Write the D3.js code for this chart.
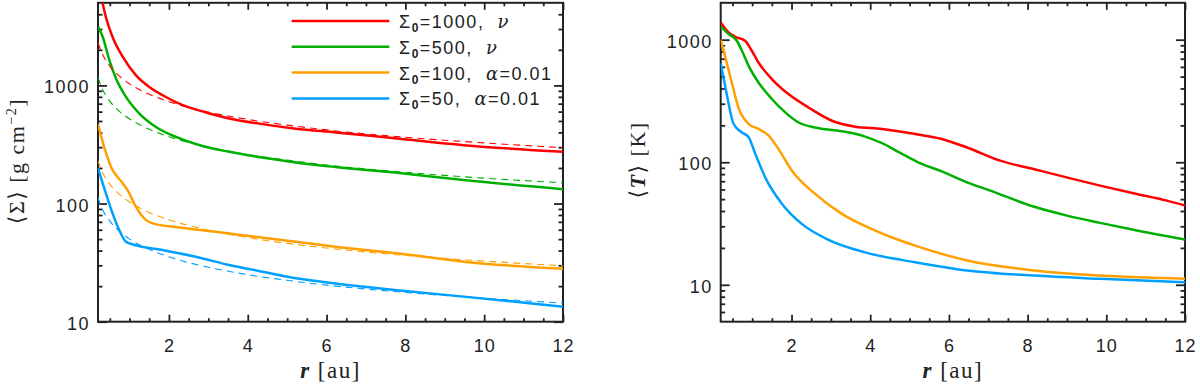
<!DOCTYPE html>
<html>
  <head>
    <meta charset="utf-8" />
    <title>Surface density and temperature profiles</title>
    <script src="https://d3js.org/d3.v7.min.js"></script>
    <style>
      body { margin: 0; background: #fff; }
      svg text { font-family: "Liberation Sans", Arial, sans-serif; fill: #222; white-space: pre; }
      .serif { font-family: "Liberation Serif", "DejaVu Serif", serif; }
      .greek { font-family: "DejaVu Serif", serif; }
    </style>
  </head>
  <body>
    <div id="chart"></div>
    <script>
      // ---- data (r in au) ----
      // left panel: azimuthally averaged surface density <Sigma> [g cm^-2]
      var rSig1000 = [0.2, 0.3, 0.4, 0.57, 0.83, 1.16, 1.5, 1.84, 2.35, 2.94, 3.53, 4.37, 5.22, 6.23, 7.79, 9.48, 12];
      var sig1000 = [7200, 5240, 3790, 2570, 1740, 1220, 970, 825, 680, 590, 525, 470, 430, 400, 355, 312, 274];

      var rSig500 = [0.2, 0.32, 0.49, 0.66, 0.91, 1.25, 1.67, 2.18, 2.85, 3.53, 4.37, 5.22, 6.23, 7.79, 9.48, 12];
      var sig500 = [3150, 2570, 1630, 1140, 800, 578, 445, 366, 307, 274, 245, 223, 204, 182, 158, 132];

      var rSig100 = [0.2, 0.38, 0.57, 0.7, 0.83, 0.95, 1.16, 1.42, 1.59, 2.26, 3.19, 4.2, 5.22, 6.23, 7.79, 9.48, 12];
      var sig100 = [470, 283, 192, 167, 148, 130, 94, 72.4, 67.9, 62.8, 57.6, 52.3, 47.5, 43, 37.9, 32.2, 28];

      var rSig50 = [0.2, 0.4, 0.57, 0.74, 0.91, 1.08, 1.84, 2.68, 3.53, 4.37, 5.22, 6.23, 7.79, 9.48, 12];
      var sig50 = [200, 122, 82.5, 59.6, 47.5, 45.1, 40.4, 35.4, 30.2, 26.5, 23.3, 21.1, 18.5, 16.3, 13.4];

      // dashed reference profiles
      var rFit = [0.2, 0.3, 0.5, 0.75, 1, 1.5, 2, 3, 4, 5, 6, 8, 10, 12];
      var fit1000 = [2300, 1880, 1457, 1190, 1030, 841, 728, 595, 515, 461, 420, 364, 326, 297];
      var fit500 = [1163, 949, 735, 600, 520, 425, 368, 300, 260, 233, 212, 184, 164, 150];
      var fit100 = [230, 188, 146, 119, 103, 84, 73, 59.5, 51.5, 46, 42, 36.4, 32.6, 29.7];
      var fit50 = [112, 91, 71, 58, 50, 41, 35.4, 28.9, 25, 22.4, 20.4, 17.7, 15.8, 14.4];

      // right panel: <T> [K]
      var rT1000 = [0.2, 0.4, 0.57, 0.82, 0.99, 1.16, 1.5, 1.92, 2.43, 3.03, 3.62, 4.3, 5.14, 5.82, 6.46, 7.3, 8.15, 8.99, 9.84, 10.69, 11.54, 12];
      var T1000 = [1380, 1145, 1056, 980, 812, 652, 477, 360, 280, 218, 195, 187, 170, 155, 132, 103, 88, 75.3, 64.5, 55.8, 48.6, 44.3];

      var rT500 = [0.2, 0.4, 0.61, 0.74, 0.91, 1.16, 1.5, 1.84, 2.18, 2.6, 3.28, 3.87, 4.3, 4.81, 5.31, 5.82, 6.46, 7.05, 8.15, 9, 9.84, 10.69, 12];
      var T500 = [1280, 1111, 980, 812, 612, 448, 328, 255, 211, 192, 179, 162, 143, 117, 96.8, 84.3, 68.6, 58.7, 43.5, 36.7, 32, 28.1, 23.4];

      var rT100 = [0.2, 0.32, 0.49, 0.65, 0.91, 1.16, 1.42, 1.67, 2.01, 2.6, 3.28, 4.13, 4.76, 5.14, 6.46, 8.15, 9.84, 12];
      var T100 = [1000, 716, 435, 280, 205, 187, 165, 128, 85.4, 55.2, 37.9, 27.7, 23, 20.9, 15.8, 13.1, 11.9, 11.2];

      var rT50 = [0.2, 0.32, 0.53, 0.74, 0.91, 1.08, 1.33, 1.76, 2.26, 2.94, 3.87, 5.14, 6.46, 8.15, 9.84, 12];
      var T50 = [640, 408, 205, 175, 160, 117, 75.3, 45.7, 31.4, 23.3, 18.4, 15.3, 13.1, 11.9, 11.2, 10.5];

      // axes
      var rDomain = [0.2, 12];
      var rTicks = [2, 4, 6, 8, 10, 12];
      var sigDomain = [10, 5000];
      var tempDomain = [5, 2000];
      var logTicks = [10, 100, 1000];

      // legend
      var legendSigma0 = ["1000", "500", "100", "50"];
      var legendSymbol = ["ν", "ν", "α", "α"];
      var legendValue = ["", "", "=0.01", "=0.01"];
      var colors = ["#ff0000", "#00b000", "#ffa000", "#00a0ff"];

      var width = 1200;
      var height = 387;

      var svg = d3
        .select("#chart")
        .append("svg")
        .attr("width", width)
        .attr("height", height);

      function zip(xs, ys) {
        return xs.map(function (d, i) {
          return [d, ys[i]];
        });
      }

      function logMinor(domain) {
        var out = [];
        for (var dec = 1; dec <= 10000; dec *= 10) {
          for (var k = 2; k <= 9; k++) {
            var v = k * dec;
            if (v > domain[0] && v < domain[1]) out.push(v);
          }
        }
        return out;
      }

      function panel(box, yDomain, id) {
        var x = d3.scaleLinear().domain(rDomain).range([box.left, box.right]);
        var y = d3.scaleLog().domain(yDomain).range([box.bottom, box.top]);

        var g = svg.append("g");

        g.append("clipPath")
          .attr("id", id)
          .append("rect")
          .attr("x", box.left)
          .attr("y", box.top)
          .attr("width", box.right - box.left)
          .attr("height", box.bottom - box.top);

        var rMinor = d3.range(0.5, 12, 0.5).filter(function (d) {
          return d % 2 !== 0;
        });

        // bottom
        g.append("g").attr("transform", "translate(0," + box.bottom + ")")
          .call(d3.axisBottom(x).tickValues(rMinor).tickSizeInner(-3.5).tickSizeOuter(0).tickFormat(""));
        var xbMajor = g.append("g").attr("transform", "translate(0," + box.bottom + ")");
        xbMajor.call(d3.axisBottom(x).tickValues(rTicks).tickSizeInner(-7).tickSizeOuter(0).tickFormat(d3.format("d")));
        xbMajor.selectAll("text").attr("y", 30).attr("dy", null)
          .style("font-size", "18px").style("letter-spacing", "1px");

        // top
        g.append("g").attr("transform", "translate(0," + box.top + ")")
          .call(d3.axisTop(x).tickValues(rMinor).tickSizeInner(-3.5).tickSizeOuter(0).tickFormat(""));
        g.append("g").attr("transform", "translate(0," + box.top + ")")
          .call(d3.axisTop(x).tickValues(rTicks).tickSizeInner(-7).tickSizeOuter(0).tickFormat(""));

        // left
        var yMinor = logMinor(yDomain);
        g.append("g").attr("transform", "translate(" + box.left + ",0)")
          .call(d3.axisLeft(y).tickValues(yMinor).tickSizeInner(-4.5).tickSizeOuter(0).tickFormat(""));
        var yl = g.append("g").attr("transform", "translate(" + box.left + ",0)");
        yl.call(d3.axisLeft(y).tickValues(logTicks).tickSizeInner(-9).tickSizeOuter(0).tickPadding(8).tickFormat(d3.format("d")));
        yl.selectAll("text").attr("dy", "0.42em")
          .style("font-size", "18px").style("letter-spacing", "1.5px");

        // right
        g.append("g").attr("transform", "translate(" + box.right + ",0)")
          .call(d3.axisRight(y).tickValues(yMinor).tickSizeInner(-4.5).tickSizeOuter(0).tickFormat(""));
        g.append("g").attr("transform", "translate(" + box.right + ",0)")
          .call(d3.axisRight(y).tickValues(logTicks).tickSizeInner(-9).tickSizeOuter(0).tickFormat(""));

        g.selectAll(".domain").remove();
        g.selectAll(".tick line").attr("stroke", "#222").attr("stroke-width", 1.8);

        // frame
        g.append("rect")
          .attr("x", box.left)
          .attr("y", box.top)
          .attr("width", box.right - box.left)
          .attr("height", box.bottom - box.top)
          .attr("fill", "none")
          .attr("stroke", "#222")
          .attr("stroke-width", 2);

        // x title
        var xt = g.append("text")
          .attr("class", "serif")
          .attr("x", (box.left + box.right) / 2)
          .attr("y", 378)
          .attr("text-anchor", "middle")
          .style("font-size", "23px")
          .style("letter-spacing", "1.5px");
        xt.append("tspan").text("r").style("font-style", "italic").style("font-weight", "bold");
        xt.append("tspan").text(" [au]");

        var line = d3.line()
          .x(function (d) { return x(d[0]); })
          .y(function (d) { return y(d[1]); })
          .curve(d3.curveMonotoneX);

        var plot = g.append("g").attr("clip-path", "url(#" + id + ")");

        return { x: x, y: y, g: g, plot: plot, line: line };
      }

      var left = panel({ left: 98, right: 563, top: 2.8, bottom: 321.7 }, sigDomain, "clipL");
      var right = panel({ left: 720.7, right: 1185, top: 2.8, bottom: 321.7 }, tempDomain, "clipR");

      var sigSeries = [zip(rSig1000, sig1000), zip(rSig500, sig500), zip(rSig100, sig100), zip(rSig50, sig50)];
      var fitSeries = [zip(rFit, fit1000), zip(rFit, fit500), zip(rFit, fit100), zip(rFit, fit50)];
      var tSeries = [zip(rT1000, T1000), zip(rT500, T500), zip(rT100, T100), zip(rT50, T50)];

      // solid curves first, dashed profiles drawn over them
      sigSeries.forEach(function (s, i) {
        left.plot.append("path")
          .attr("d", left.line(s))
          .attr("fill", "none")
          .attr("stroke", colors[i])
          .attr("stroke-width", 2.5);
      });
      fitSeries.forEach(function (s, i) {
        left.plot.append("path")
          .attr("d", left.line(s))
          .attr("fill", "none")
          .attr("stroke", colors[i])
          .attr("stroke-width", 1.1)
          .attr("stroke-dasharray", "7,5");
      });
      tSeries.forEach(function (s, i) {
        right.plot.append("path")
          .attr("d", right.line(s))
          .attr("fill", "none")
          .attr("stroke", colors[i])
          .attr("stroke-width", 2.5);
      });

      // y titles
      var ytL = svg.append("text")
        .attr("class", "serif")
        .attr("transform", "translate(24,161) rotate(-90)")
        .attr("text-anchor", "middle")
        .style("font-size", "22px")
        .style("letter-spacing", "1.5px");
      ytL.append("tspan").text("⟨Σ⟩ [g cm");
      ytL.append("tspan").text("−2").attr("dy", -8).style("font-size", "14px");
      ytL.append("tspan").text("]").attr("dy", 8);

      var ytR = svg.append("text")
        .attr("class", "serif")
        .attr("transform", "translate(645,160) rotate(-90)")
        .attr("text-anchor", "middle")
        .style("font-size", "22px")
        .style("letter-spacing", "1.5px");
      ytR.append("tspan").text("⟨");
      ytR.append("tspan").text("T").style("font-style", "italic").style("font-weight", "bold");
      ytR.append("tspan").text("⟩ [K]");

      // legend
      var legend = svg.append("g");
      legendSigma0.forEach(function (s0, i) {
        var yy = 21 + i * 25.8;
        legend.append("line")
          .attr("x1", 291.7)
          .attr("x2", 389.3)
          .attr("y1", yy)
          .attr("y2", yy)
          .attr("stroke", colors[i])
          .attr("stroke-width", 2.5);
        var t = legend.append("text")
          .attr("x", 399)
          .attr("y", yy + 7)
          .style("font-size", "18px")
          .style("letter-spacing", "1.5px");
        t.append("tspan").text("Σ");
        t.append("tspan").text("0").attr("dy", 4).style("font-size", "12px").style("font-weight", "bold");
        t.append("tspan").text("=" + s0 + ",  ").attr("dy", -4);
        t.append("tspan").text(legendSymbol[i]).attr("class", "greek").style("font-style", "italic");
        t.append("tspan").text(legendValue[i]);
      });
    </script>
  </body>
</html>
